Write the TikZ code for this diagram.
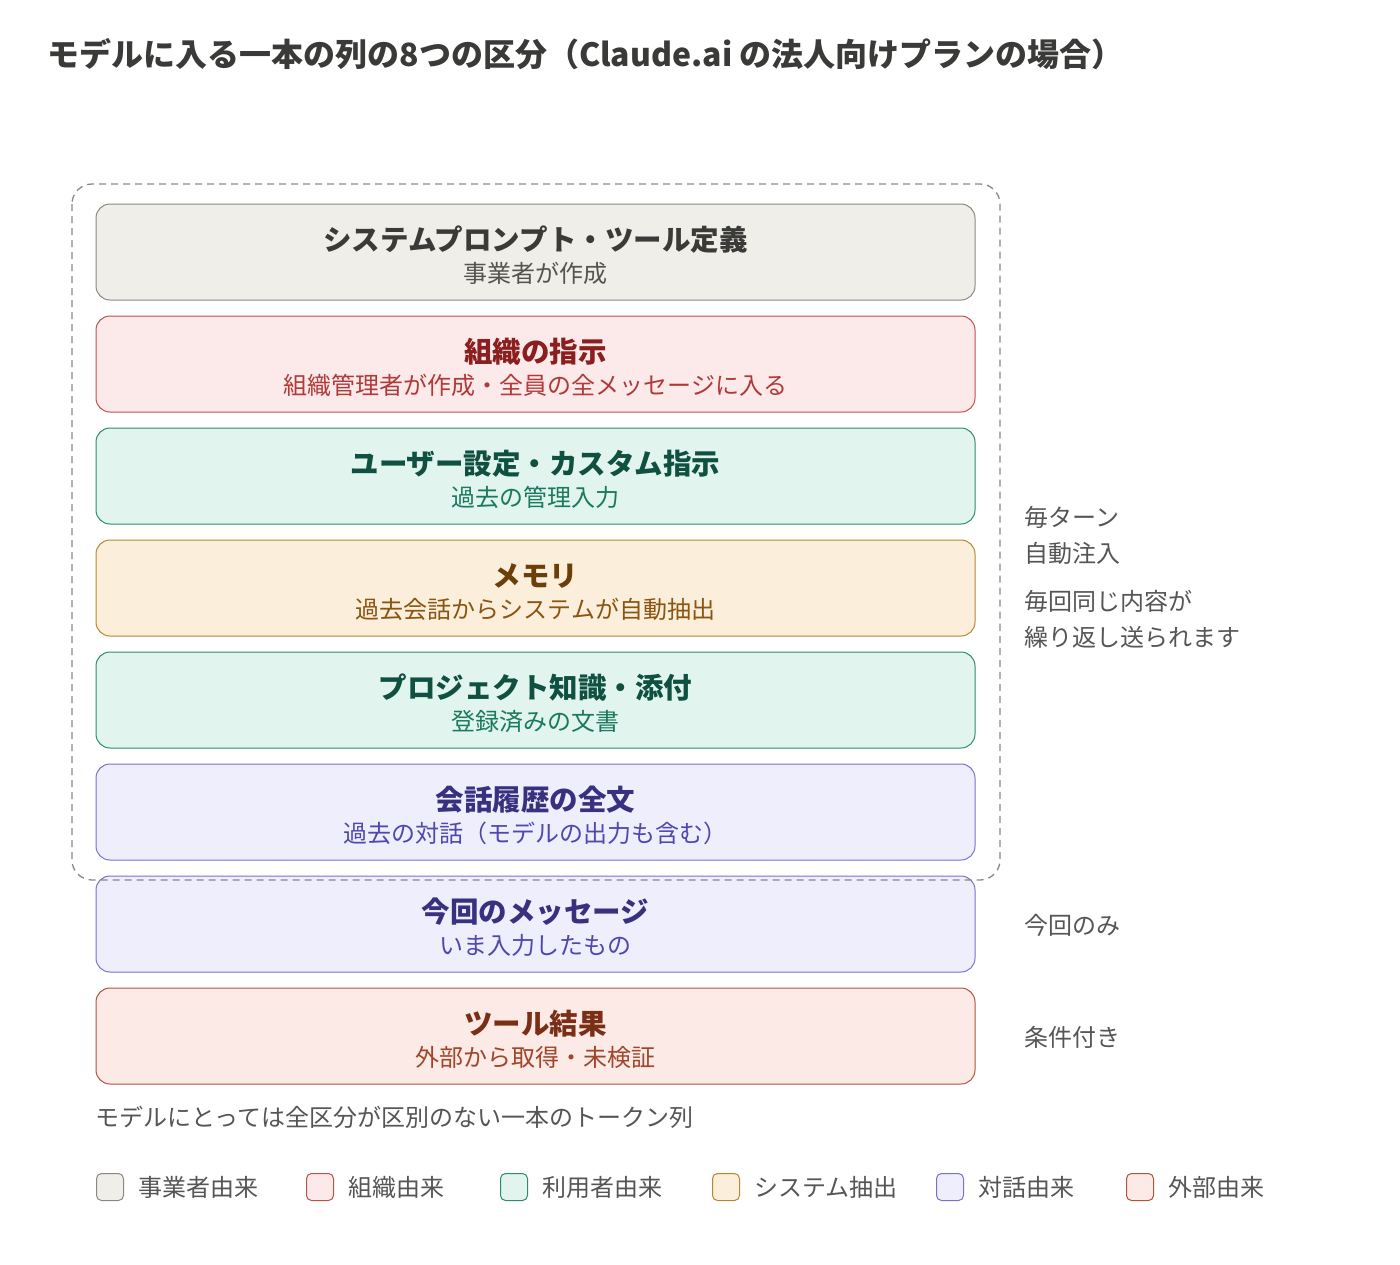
\documentclass[tikz,border=0pt]{standalone}
\usepackage{fontspec}
\setmainfont{Noto Sans CJK JP}
\usetikzlibrary{positioning}
\definecolor{grayfill}{HTML}{F0EEE8}\definecolor{grayline}{HTML}{8A8880}
\definecolor{grayhead}{HTML}{3A3A38}\definecolor{graysub}{HTML}{55534E}
\definecolor{redfill}{HTML}{FCE9E9}\definecolor{redline}{HTML}{C0504D}
\definecolor{redhead}{HTML}{8B1E1E}\definecolor{redsub}{HTML}{B03A3A}
\definecolor{grnfill}{HTML}{E1F4EE}\definecolor{grnline}{HTML}{2E8B6E}
\definecolor{grnhead}{HTML}{0F5040}\definecolor{grnsub}{HTML}{1A7A5E}
\definecolor{orgfill}{HTML}{FBEEDB}\definecolor{orgline}{HTML}{B8862F}
\definecolor{orghead}{HTML}{6B3E0A}\definecolor{orgsub}{HTML}{8A5510}
\definecolor{purfill}{HTML}{EEEEFC}\definecolor{purline}{HTML}{7A70D0}
\definecolor{purhead}{HTML}{3A3080}\definecolor{pursub}{HTML}{5048B0}
\definecolor{salfill}{HTML}{FBEAE5}\definecolor{salline}{HTML}{B0553A}
\definecolor{salhead}{HTML}{7A2E15}\definecolor{salsub}{HTML}{A0452A}
\definecolor{note}{HTML}{555555}
\tikzset{
  seg/.style={draw=#1line, fill=#1fill, rounded corners=14pt, line width=1pt,
    minimum width=879pt, minimum height=96pt, inner sep=0pt},
  head/.style={text=#1head, font=\fontsize{28.5}{32}\selectfont\bfseries},
  sub/.style={text=#1sub, font=\fontsize{24}{28}\selectfont},
  side/.style={text=note, font=\fontsize{24}{28}\selectfont, anchor=west},
  key/.style={draw=#1line, fill=#1fill, rounded corners=5pt, line width=1pt,
    minimum size=27pt, inner sep=0pt, anchor=west},
}
\newcommand{\segment}[5]{%
  \node[seg=#2] (#1) at (535.5,#3) {};
  \node[head=#2] (#1h) at ([yshift=12pt]#1.center) {#4};
  \node[sub=#2] (#1s) at ([yshift=-21pt]#1.center) {#5};}
\begin{document}
\begin{tikzpicture}[x=1pt,y=-1pt]
  \useasboundingbox (0,0) rectangle (1400,1264);
  \node[anchor=west, font=\fontsize{32}{36}\selectfont\bfseries, text=grayhead] (title) at (44,54)
    {モデルに入る一本の列の8つの区分（Claude.ai の法人向けプランの場合）};

  % eight segments
  \segment{sys}{gray}{252}{システムプロンプト・ツール定義}{事業者が作成}
  \segment{org}{red}{364}{組織の指示}{組織管理者が作成・全員の全メッセージに入る}
  \segment{usr}{grn}{476}{ユーザー設定・カスタム指示}{過去の管理入力}
  \segment{mem}{org}{588}{メモリ}{過去会話からシステムが自動抽出}
  \segment{prj}{grn}{700}{プロジェクト知識・添付}{登録済みの文書}
  \segment{hist}{pur}{812}{会話履歴の全文}{過去の対話（モデルの出力も含む）}
  \segment{msg}{pur}{924}{今回のメッセージ}{いま入力したもの}
  \segment{tool}{sal}{1036}{ツール結果}{外部から取得・未検証}

  % per-turn group
  \draw[grayline, line width=1.3pt, dash pattern=on 7pt off 5pt, rounded corners=20pt]
    (72,184) rectangle (1000,880);

  \node[side] (every) at (1021,517) {毎ターン};
  \node[side] (auto) at (1021,553) {自動注入};
  \node[side] (same) at (1021,601) {毎回同じ内容が};
  \node[side] (rep) at (1021,637) {繰り返し送られます};
  \node[side] (once) at (1021,925) {今回のみ};
  \node[side] (cond) at (1021,1037) {条件付き};

  \node[side] (flat) at (92,1117) {モデルにとっては全区分が区別のない一本のトークン列};

  % legend
  \node[key=gray] (k1) at (96,1187) {};
  \node[side, right=11pt of k1] {事業者由来};
  \node[key=red] (k2) at (306,1187) {};
  \node[side, right=11pt of k2] {組織由来};
  \node[key=grn] (k3) at (500,1187) {};
  \node[side, right=11pt of k3] {利用者由来};
  \node[key=org] (k4) at (712,1187) {};
  \node[side, right=11pt of k4] {システム抽出};
  \node[key=pur] (k5) at (936,1187) {};
  \node[side, right=11pt of k5] {対話由来};
  \node[key=sal] (k6) at (1126,1187) {};
  \node[side, right=11pt of k6] {外部由来};
\end{tikzpicture}
\end{document}
